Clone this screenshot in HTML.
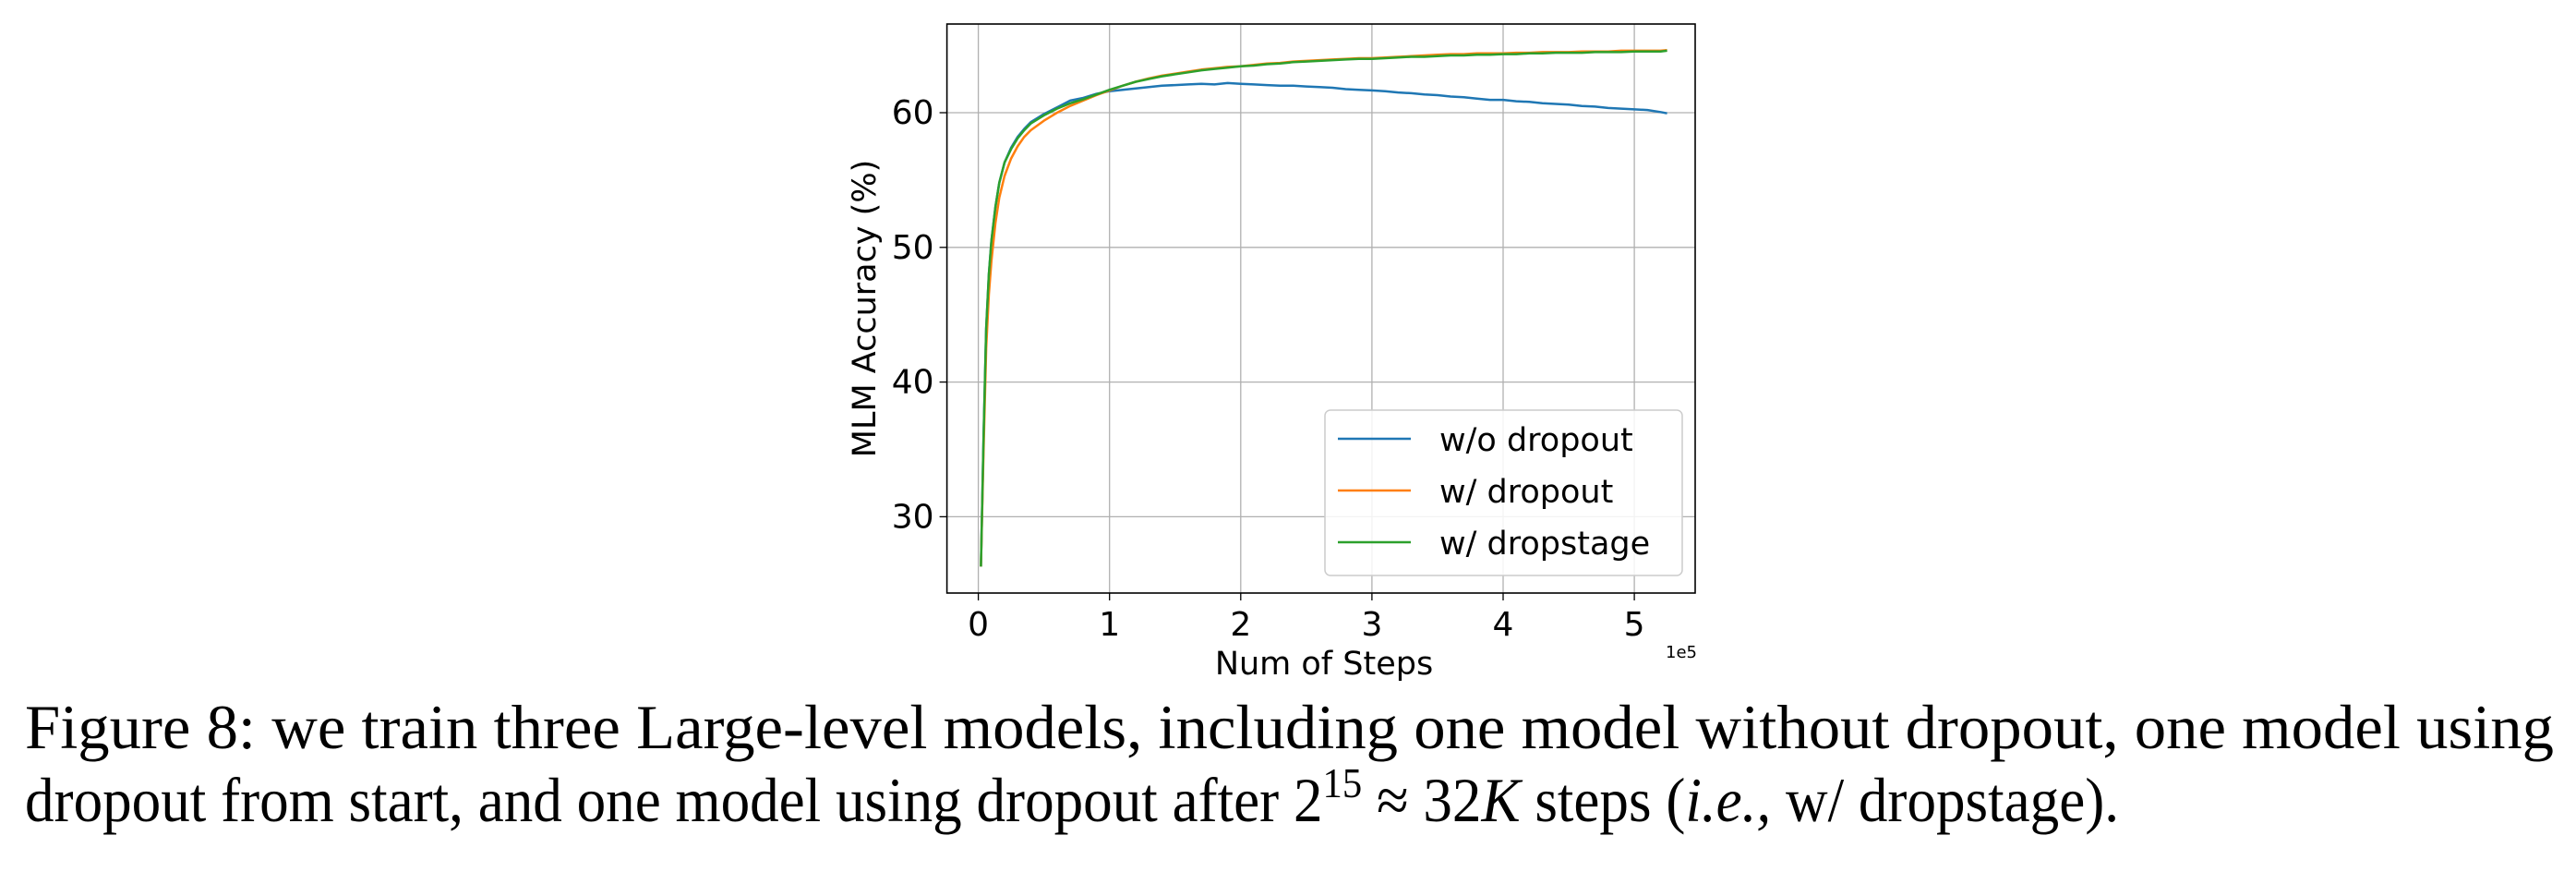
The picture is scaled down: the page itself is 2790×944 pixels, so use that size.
<!DOCTYPE html>
<html><head><meta charset="utf-8"><style>
html,body{margin:0;padding:0;background:#fff;}
svg{display:block;}
</style></head><body>
<svg id="fig" width="2790" height="944" viewBox="0 0 2790 944" xmlns="http://www.w3.org/2000/svg">
<g id="grid"></g>
<g id="series"></g>
<g id="axes"></g>
<g>
<rect x="1435" y="444" width="387" height="179" rx="6" fill="#fff" fill-opacity="0.85" stroke="#ccc" stroke-width="1.5"/>
<line x1="1449" y1="475" x2="1528" y2="475" stroke="#1f77b4" stroke-width="2.5"/>
<text x="1559" y="488" font-family="DejaVu Sans, Liberation Sans, sans-serif" font-size="35">w/o dropout</text>
<line x1="1449" y1="531" x2="1528" y2="531" stroke="#ff7f0e" stroke-width="2.5"/>
<text x="1559" y="544" font-family="DejaVu Sans, Liberation Sans, sans-serif" font-size="35">w/ dropout</text>
<line x1="1449" y1="587" x2="1528" y2="587" stroke="#2ca02c" stroke-width="2.5"/>
<text x="1559" y="600" font-family="DejaVu Sans, Liberation Sans, sans-serif" font-size="35">w/ dropstage</text>
</g>
<text transform="translate(948,334) rotate(-90)" text-anchor="middle" font-family="DejaVu Sans, Liberation Sans, sans-serif" font-size="35">MLM Accuracy (%)</text>
<text x="1434" y="730" text-anchor="middle" font-family="DejaVu Sans, Liberation Sans, sans-serif" font-size="35">Num of Steps</text>
<text x="1821" y="712" text-anchor="middle" font-family="DejaVu Sans, Liberation Sans, sans-serif" font-size="18">1e5</text>
<text x="27" y="810" textLength="2739" lengthAdjust="spacingAndGlyphs" font-family="Liberation Serif, serif" font-size="68">Figure 8: we train three Large-level models, including one model without dropout, one model using</text>
<text x="27" y="889" textLength="2268" lengthAdjust="spacingAndGlyphs" font-family="Liberation Serif, serif" font-size="68">dropout from start, and one model using dropout after 2<tspan font-size="46" dy="-26">15</tspan><tspan dy="26"> ≈ 32</tspan><tspan font-style="italic">K</tspan> steps (<tspan font-style="italic">i.e.,</tspan> w/ dropstage).</text>
</svg>
<script>
const xTicks = [0,1,2,3,4,5];
const yTicks = [30,40,50,60];
const stepsX = [0.02,0.04,0.06,0.08,0.1,0.13,0.16,0.2,0.25,0.3,0.35,0.4,0.5,0.6,0.7,0.8,0.9,1.0,1.1,1.2,1.3,1.4,1.5,1.6,1.7,1.8,1.9,2.0,2.1,2.2,2.3,2.4,2.5,2.6,2.7,2.8,2.9,3.0,3.1,3.2,3.3,3.4,3.5,3.6,3.7,3.8,3.9,4.0,4.1,4.2,4.3,4.4,4.5,4.6,4.7,4.8,4.9,5.0,5.1,5.2,5.25];
const woDropout = [26.3,36,44,48,50.5,53,54.8,56.3,57.4,58.2,58.8,59.3,59.9,60.4,60.9,61.1,61.4,61.6,61.7,61.8,61.9,62.0,62.05,62.1,62.15,62.1,62.2,62.15,62.1,62.05,62.0,62.0,61.95,61.9,61.85,61.75,61.7,61.65,61.6,61.5,61.45,61.35,61.3,61.2,61.15,61.05,60.95,60.95,60.85,60.8,60.7,60.65,60.6,60.5,60.45,60.35,60.3,60.25,60.2,60.05,59.95];
const wDropout = [26.3,35,42.5,46.5,49,51.8,53.7,55.3,56.6,57.5,58.2,58.7,59.4,60.0,60.5,60.9,61.3,61.65,62.0,62.3,62.55,62.75,62.9,63.05,63.2,63.3,63.4,63.45,63.55,63.65,63.7,63.8,63.85,63.9,63.95,64.0,64.05,64.05,64.1,64.15,64.2,64.25,64.3,64.35,64.35,64.4,64.4,64.4,64.45,64.45,64.5,64.5,64.5,64.55,64.55,64.55,64.6,64.6,64.6,64.6,64.65];
const wDropstage = [26.3,36,44,48,50.5,53,54.8,56.3,57.3,58.1,58.7,59.2,59.8,60.3,60.7,61.0,61.35,61.7,62.0,62.3,62.5,62.7,62.85,63.0,63.15,63.25,63.35,63.45,63.5,63.6,63.65,63.75,63.8,63.85,63.9,63.95,64.0,64.0,64.05,64.1,64.15,64.15,64.2,64.25,64.25,64.3,64.3,64.35,64.35,64.4,64.4,64.45,64.45,64.45,64.5,64.5,64.5,64.55,64.55,64.55,64.6];

const L=1025.6,R=1836,T=26,B=642;
const xs = v => 1059.6 + v*142.1;
const ys = v => 122 + (60-v)*14.58;
const NS="http://www.w3.org/2000/svg";
function mk(tag, attrs, parent){const e=document.createElementNS(NS,tag);for(const k in attrs)e.setAttribute(k,attrs[k]);parent.appendChild(e);return e;}
const grid=document.getElementById('grid'), axes=document.getElementById('axes'), series=document.getElementById('series');
xTicks.forEach(t=>{
  const g=mk('line',{x1:xs(t),x2:xs(t),y1:T,y2:B,stroke:'#b0b0b0','stroke-width':1.3},grid);
  
  
  const tk=mk('line',{x1:xs(t),x2:xs(t),y1:B,y2:B+8,stroke:'#000','stroke-width':1.3},axes);
  
  
  const tx=mk('text',{x:xs(t),y:B+46,'text-anchor':'middle','font-family':'DejaVu Sans, Liberation Sans, sans-serif','font-size':36},axes);
  tx.textContent=t;
  
  
});
yTicks.forEach(t=>{
  const g=mk('line',{x1:L,x2:R,y1:ys(t),y2:ys(t),stroke:'#b0b0b0','stroke-width':1.3},grid);
  
  
  const tk=mk('line',{x1:L-8,x2:L,y1:ys(t),y2:ys(t),stroke:'#000','stroke-width':1.3},axes);
  
  
  const tx=mk('text',{x:L-14,y:ys(t)+12,'text-anchor':'end','font-family':'DejaVu Sans, Liberation Sans, sans-serif','font-size':36},axes);
  tx.textContent=t;
  
  
});
const fr=mk('rect',{x:L,y:T,width:R-L,height:B-T,fill:'none',stroke:'#000','stroke-width':1.6},axes);


function line(vals,color,name){
  const d=vals.map((v,i)=>(i?'L':'M')+xs(stepsX[i]).toFixed(1)+','+ys(v).toFixed(1)).join('');
  const p=mk('path',{d:d,fill:'none',stroke:color,'stroke-width':2.5,'stroke-linejoin':'round'},series);
  
  
}
line(woDropout,'#1f77b4','line-wo-dropout');
line(wDropout,'#ff7f0e','line-w-dropout');
line(wDropstage,'#2ca02c','line-w-dropstage');
</script>
</body></html>
